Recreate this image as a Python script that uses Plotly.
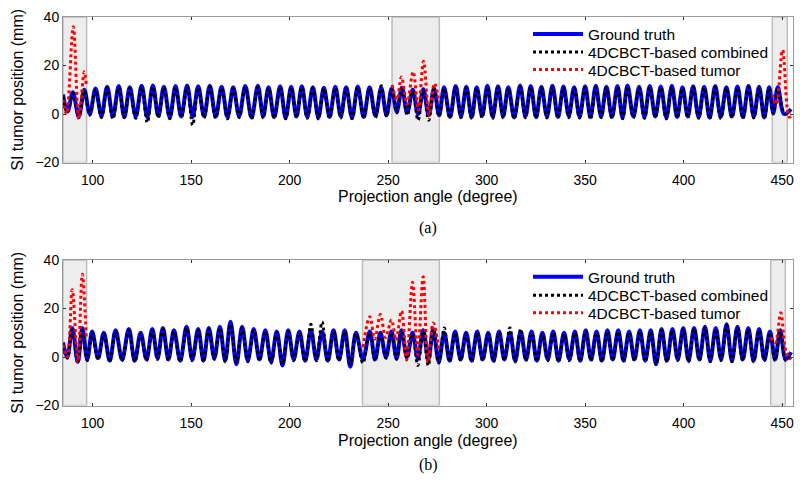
import plotly.graph_objects as go

# ---------------- Panel (a) data ----------------
a_angle = [85.0, 87.3, 90.0, 93.0, 95.8, 98.6, 101.5, 104.5, 107.4, 110.3, 113.3, 116.1, 118.9, 121.9,
           124.9, 127.8, 130.6, 133.4, 136.2, 139.2, 142.1, 145.0, 148.0, 150.8, 153.6, 156.6, 159.5,
           162.5, 165.5, 168.5, 171.4, 174.4, 177.5, 180.7, 183.9, 186.6, 189.3, 192.2, 195.2, 198.0,
           200.8, 203.5, 206.2, 209.0, 211.8, 214.6, 217.4, 220.3, 223.2, 226.0, 228.7, 231.7, 234.6,
           237.6, 240.6, 243.6, 246.5, 249.2, 251.8, 254.4, 257.0, 259.7, 262.5, 265.2, 267.9, 270.6,
           273.3, 275.9, 278.4, 281.4, 284.3, 287.0, 289.7, 292.4, 295.0, 297.7, 300.4, 303.1, 305.8,
           308.4, 311.0, 314.0, 317.0, 319.7, 322.4, 325.1, 327.8, 330.6, 333.4, 336.2, 339.0, 341.7,
           344.4, 347.2, 350.0, 352.7, 355.4, 358.1, 360.8, 363.6, 366.4, 369.0, 371.5, 374.5, 377.4,
           380.1, 382.8, 385.6, 388.4, 391.2, 394.0, 396.7, 399.4, 402.1, 404.8, 407.6, 410.4, 413.2,
           416.0, 418.8, 421.7, 424.5, 427.3, 430.1, 432.9, 435.6, 438.3, 440.9, 443.4, 445.5, 447.8,
           451.0, 454.5]
a_truth = [8.0, 1.0, 9.0, -1.0, 10.0, 0.0, 10.5, -0.8, 11.2, -1.0, 11.5, -1.2, 11.0, -1.0,
           11.6, -1.3, 11.8, -0.8, 11.2, -1.4, 11.5, -1.0, 11.8, -1.2, 11.4, -0.9, 11.7,
           -1.1, 11.2, -1.3, 11.0, -0.9, 11.5, -1.4, 11.6, -1.0, 11.0, -1.3, 11.4, -1.5,
           11.2, -1.0, 11.4, -1.2, 11.0, -1.4, 10.8, -1.2, 11.2, -1.0, 11.0, -1.5, 11.3,
           -1.2, 11.0, -0.8, 10.8, -0.5, 10.5, 1.0, 10.8, 0.5, 10.0, 0.0, 10.2, -0.5,
           10.5, -0.5, 11.0, -1.2, 11.5, -1.0, 11.2, -1.3, 11.0, -0.8, 11.6, -1.2, 11.4,
           -1.0, 11.0, -1.4, 11.8, -0.9, 11.5, -1.3, 11.2, -1.0, 11.7, -1.2, 11.3, -0.8,
           11.0, -1.1, 11.4, -1.3, 11.6, -1.0, 11.2, -1.2, 11.5, -1.4, 11.8, -1.0, 11.2,
           -1.2, 11.5, -1.0, 11.3, -1.4, 11.6, -1.2, 11.0, -1.0, 11.4, -1.3, 11.2, -1.5,
           11.5, -1.2, 11.0, -1.0, 11.3, -1.3, 11.6, -1.1, 11.2, -1.4, 11.0, 0.5, 11.0,
           0.0, 2.0]
a_combined = [7.0, 0.5, 8.5, -1.5, 9.5, -0.5, 10.0, -1.5, 10.8, -2.0, 11.0, -1.5, 10.6, -1.8,
              11.0, -3.5, 11.2, -1.5, 10.8, -2.0, 11.0, -1.5, 11.2, -4.6, 10.8, -1.5, 11.2,
              -1.8, 10.8, -2.0, 10.6, -1.5, 11.0, -2.0, 11.0, -1.6, 10.6, -1.8, 11.0, -2.0,
              10.8, -1.5, 11.0, -1.8, 10.6, -2.0, 10.5, -1.8, 10.8, -1.6, 10.6, -2.0, 10.8,
              -1.8, 10.6, -1.5, 11.6, -1.0, 10.0, 0.5, 10.4, -0.5, 9.5, -2.6, 9.8, -2.6,
              10.0, -1.0, 10.6, -1.8, 11.0, -1.5, 10.8, -1.8, 10.6, -1.5, 11.0, -1.8, 11.0,
              -1.6, 10.6, -2.0, 11.2, -1.5, 11.0, -1.8, 10.8, -1.6, 11.2, -1.8, 10.8, -1.5,
              10.6, -1.6, 11.0, -2.2, 11.0, -1.5, 10.8, -1.8, 11.0, -2.0, 11.2, -1.6, 10.8,
              -1.8, 11.0, -1.5, 10.8, -2.0, 11.0, -1.8, 10.6, -1.6, 11.0, -1.8, 10.8, -2.0,
              11.0, -1.8, 10.6, -1.5, 10.8, -1.8, 11.0, -1.6, 10.8, -2.0, 10.6, 0.0, 10.5,
              0.5, 0.0]
a_tumor_angle = [[85.0, 86.8, 90.2, 93.0, 95.8, 96.8],
                 [252.0, 254.5, 256.8, 259.6, 262.7, 265.3, 268.0, 270.8, 273.5, 275.8],
                 [445.0, 447.0, 450.2, 453.5, 454.5]]
a_tumor_value = [[6.0, 0.0, 36.0, -2.0, 17.4, 12.0],
                 [12.0, 6.0, 15.3, 4.0, 17.4, 1.6, 21.8, -0.5, 12.6, 5.0],
                 [8.0, 4.0, 26.4, -1.2, -1.0]]
a_shade = [(85.0, 97.0), (252.0, 276.0), (445.0, 452.6)]

# ---------------- Panel (b) data ----------------
b_angle = [85.0, 87.2, 89.7, 92.5, 94.8, 97.3, 99.8, 102.8, 105.7, 108.7, 111.7, 115.0, 118.4, 121.4,
           124.4, 127.4, 130.3, 133.0, 135.7, 138.5, 141.3, 144.5, 147.7, 150.6, 153.6, 156.3, 159.0,
           161.8, 164.6, 167.3, 170.0, 173.0, 175.9, 178.8, 181.8, 184.7, 187.7, 190.6, 193.5, 196.4,
           199.3, 202.1, 205.0, 207.9, 210.8, 213.6, 216.5, 219.4, 222.3, 225.1, 228.0, 230.8, 233.7,
           237.2, 240.7, 243.4, 246.1, 248.9, 251.7, 254.3, 256.8, 259.6, 262.4, 265.1, 267.8, 270.4,
           272.9, 275.7, 278.5, 281.2, 284.0, 286.8, 289.6, 292.4, 295.2, 298.0, 300.8, 303.5, 306.3,
           309.0, 311.8, 314.5, 317.3, 320.0, 322.8, 325.5, 328.3, 331.0, 333.8, 336.5, 339.3, 342.0,
           344.8, 347.5, 350.3, 353.0, 355.8, 358.5, 361.3, 364.0, 366.8, 369.5, 372.3, 375.0, 377.8,
           380.5, 383.3, 386.0, 388.8, 391.5, 394.3, 397.0, 399.8, 402.5, 405.3, 408.0, 410.8, 413.5,
           416.3, 419.0, 421.8, 424.5, 427.3, 430.0, 432.8, 435.5, 438.3, 441.0, 443.8, 446.4, 449.0,
           451.8, 454.5]
b_truth = [6.0, 0.0, 12.0, -2.0, 12.0, -1.0, 10.5, -0.5, 10.0, -1.5, 11.0, -1.0, 11.5, -1.5,
           10.0, -1.0, 11.5, -0.5, 12.0, -1.0, 11.0, -1.5, 12.5, -1.0, 11.5, -1.5, 12.0,
           -0.5, 12.5, -1.5, 14.5, -3.0, 12.5, -1.5, 11.5, -1.0, 11.0, -2.0, 10.5, -3.5,
           11.0, -1.0, 10.5, -1.5, 11.0, -1.0, 10.5, -1.5, 11.0, -1.0, 11.0, -4.0, 10.0,
           -1.0, 10.5, -1.0, 10.0, 0.0, 10.5, -0.5, 11.0, 0.0, 10.0, -0.5, 11.0, -1.0,
           11.5, -2.0, 10.0, -1.5, 10.5, -1.0, 10.0, -1.5, 10.5, -1.0, 10.0, -1.5, 10.5,
           -1.0, 10.0, -1.5, 10.5, -1.0, 10.5, -1.5, 10.0, -1.0, 10.5, -1.5, 10.0, -1.0,
           10.5, -1.5, 11.0, -1.0, 10.5, -1.5, 11.0, -1.0, 11.0, -1.5, 10.5, -1.0, 11.0,
           -1.5, 11.0, -3.0, 11.5, -1.5, 11.5, -1.0, 12.0, -1.5, 12.0, -1.0, 12.5, -1.5,
           12.0, -1.0, 13.5, -1.5, 12.5, -1.0, 12.0, -1.5, 11.5, -1.0, 10.5, -1.0, 11.0,
           -1.0, 2.0]
b_combined = [5.0, -0.5, 11.0, -2.5, 11.0, -1.5, 10.0, -1.0, 9.5, -2.0, 10.5, -1.5, 11.0, -2.0,
              9.5, -1.5, 11.0, -1.0, 11.5, -1.5, 10.5, -2.0, 12.0, -1.5, 11.0, -2.0, 11.5,
              -1.0, 12.0, -2.0, 13.5, -2.5, 12.0, -2.0, 11.0, -1.5, 10.5, -2.5, 10.0, -3.0,
              10.5, -1.5, 10.0, -2.0, 13.5, -1.5, 14.5, -2.0, 10.5, -1.5, 10.5, -3.0, 9.5,
              -2.5, 10.0, -1.5, 9.5, -0.5, 10.0, -1.0, 10.5, -0.5, 9.5, -3.5, 10.5, -3.5,
              11.0, -2.5, 12.0, -2.0, 10.0, -1.5, 9.5, -2.0, 10.0, -1.5, 9.5, -2.0, 10.0,
              -1.5, 12.1, -2.0, 11.5, -1.5, 10.0, -2.0, 9.5, -1.5, 10.0, -2.0, 9.5, -1.5,
              10.0, -2.0, 10.5, -1.5, 10.0, -2.0, 10.5, -1.5, 10.5, -2.0, 10.0, -1.5, 10.5,
              -2.0, 10.5, -3.0, 11.0, -2.0, 11.0, -1.5, 11.5, -2.0, 11.5, -1.5, 12.0, -2.0,
              11.5, -1.5, 13.0, -2.0, 12.0, -1.5, 11.5, -2.0, 11.0, -1.5, 10.0, -1.5, 10.5,
              -1.5, 1.0]
b_tumor_angle = [[85.0, 87.2, 89.7, 92.5, 94.8, 96.8],
                 [237.2, 240.7, 243.2, 246.1, 248.7, 251.7, 254.0, 256.8, 259.4, 262.4, 265.0,
                  267.8, 270.2, 272.9, 275.8],
                 [444.2, 446.5, 449.3, 452.0, 454.5]]
b_tumor_value = [[5.0, 0.0, 27.7, -2.0, 34.1, 8.0],
                 [4.0, 16.6, 7.4, 17.6, 8.0, 15.3, 7.0, 19.0, -1.2, 30.8, 1.0, 33.1, -2.0, 14.0, 3.0],
                 [8.0, 6.0, 18.2, 2.0, -1.0]]
b_shade = [(85.0, 97.0), (237.0, 276.0), (444.2, 451.6)]

legend_names = ["Ground truth", "4DCBCT-based combined", "4DCBCT-based tumor"]
x_ticks = [100, 150, 200, 250, 300, 350, 400, 450]
y_ticks = [-20, 0, 20, 40]

W, H = 800, 487
FONT = "Liberation Sans, Arial, sans-serif"

fig = go.Figure()

# legend rows (pixel centres) for each panel
legend_rows = {"a": [34.3, 52.3, 70.0], "b": [277.3, 295.7, 313.3]}

panels = [
    dict(key="a", ang=a_angle, truth=a_truth, comb=a_combined, tang=a_tumor_angle, tval=a_tumor_value,
         shade=a_shade, xa="x", ya="y", legends=["legend", "legend2", "legend3"]),
    dict(key="b", ang=b_angle, truth=b_truth, comb=b_combined, tang=b_tumor_angle, tval=b_tumor_value,
         shade=b_shade, xa="x2", ya="y2", legends=["legend4", "legend5", "legend6"]),
]

for p in panels:
    fig.add_trace(go.Scatter(x=p["ang"], y=p["truth"], mode="lines", name=legend_names[0],
                             line=dict(color="#0000FF", width=4, shape="spline", smoothing=1.0),
                             xaxis=p["xa"], yaxis=p["ya"], legend=p["legends"][0]))
    fig.add_trace(go.Scatter(x=p["ang"], y=p["comb"], mode="lines", name=legend_names[1],
                             line=dict(color="#000000", width=3, dash="dot", shape="spline", smoothing=1.0),
                             xaxis=p["xa"], yaxis=p["ya"], legend=p["legends"][1]))
    for i, (ta, tv) in enumerate(zip(p["tang"], p["tval"])):
        fig.add_trace(go.Scatter(x=ta, y=tv, mode="lines", name=legend_names[2],
                                 showlegend=(i == 0),
                                 line=dict(color="#FF0000", width=3, dash="dot", shape="spline", smoothing=1.0),
                                 xaxis=p["xa"], yaxis=p["ya"], legend=p["legends"][2]))
    for (s0, s1) in p["shade"]:
        fig.add_shape(type="rect", xref=p["xa"], yref=p["ya"], x0=s0, x1=s1, y0=-20, y1=40,
                      fillcolor="#EDEDED", line=dict(color="#BDBDBD", width=1.5), layer="below")

# plot areas in pixels
L, R = 63, 793
a_top, a_bot = 17, 162.5
b_top, b_bot = 260, 405.5

axis_common = dict(showline=True, linecolor="#9a9a9a", linewidth=1, mirror="ticks",
                   ticks="inside", ticklen=3, tickcolor="#333333", showgrid=False, zeroline=False,
                   automargin=False,
                   tickfont=dict(family=FONT, size=14, color="#000000"))

legend_layout = {}
for p in panels:
    for name, row in zip(p["legends"], legend_rows[p["key"]]):
        legend_layout[name] = dict(x=528 / W, y=1 - row / H, xanchor="left", yanchor="middle",
                                   bgcolor="rgba(0,0,0,0)", borderwidth=0,
                                   font=dict(family=FONT, size=15.5, color="#000000"), itemwidth=50)

fig.update_layout(
    template="none",
    width=W, height=H, margin=dict(l=0, r=0, t=0, b=0, autoexpand=False),
    paper_bgcolor="white", plot_bgcolor="white",
    xaxis=dict(domain=[L / W, R / W], range=[85, 455.5], tickvals=x_ticks, anchor="y",
               ticklabelstandoff=5, **axis_common),
    yaxis=dict(domain=[1 - a_bot / H, 1 - a_top / H], range=[-20, 40], tickvals=y_ticks, anchor="x",
               **axis_common),
    xaxis2=dict(domain=[L / W, R / W], range=[85, 455.5], tickvals=x_ticks, anchor="y2",
                ticklabelstandoff=5, **axis_common),
    yaxis2=dict(domain=[1 - b_bot / H, 1 - b_top / H], range=[-20, 40], tickvals=y_ticks, anchor="x2",
                **axis_common),
    showlegend=True,
    **legend_layout,
)

annotations = []
for (ymid, xt_y, cap_y, cap) in [((a_top + a_bot) / 2, 197, 228, "(a)"),
                                 ((b_top + b_bot) / 2, 440, 465, "(b)")]:
    annotations.append(dict(text="SI tumor position (mm)", x=18 / W, y=1 - ymid / H, xref="paper", yref="paper",
                            textangle=-90, showarrow=False, xanchor="center", yanchor="middle",
                            font=dict(family=FONT, size=16, color="#000000")))
    annotations.append(dict(text="Projection angle (degree)", x=(L + R) / 2 / W, y=1 - xt_y / H,
                            xref="paper", yref="paper", showarrow=False, xanchor="center", yanchor="middle",
                            font=dict(family=FONT, size=16, color="#000000")))
    annotations.append(dict(text=cap, x=(L + R) / 2 / W, y=1 - cap_y / H, xref="paper", yref="paper",
                            showarrow=False, xanchor="center", yanchor="middle",
                            font=dict(family="Liberation Serif, serif", size=16, color="#000000")))
fig.update_layout(annotations=annotations)

fig.write_html("out.html", config={"displayModeBar": False},
               post_script="document.body.style.margin='0';document.body.style.overflow='hidden';")
